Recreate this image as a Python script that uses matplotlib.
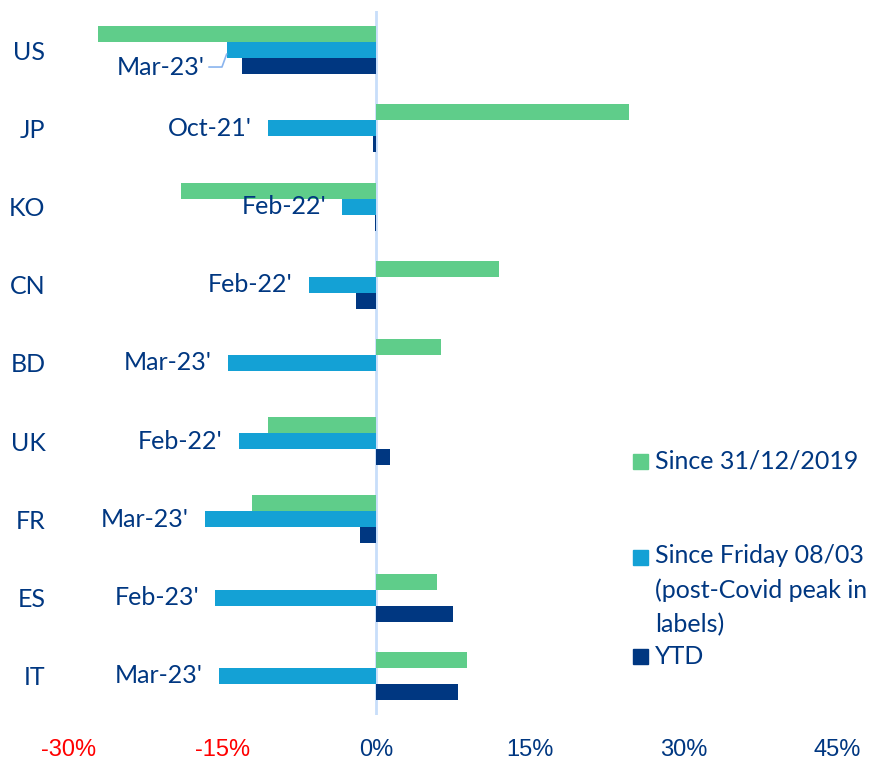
import matplotlib.pyplot as plt
from matplotlib.patches import Rectangle

countries = ['US', 'JP', 'KO', 'CN', 'BD', 'UK', 'FR', 'ES', 'IT']
since_2019 = [-27.2, 24.7, -19.1, 12.0, 6.3, -10.6, -12.1, 5.9, 8.9]
since_peak = [-14.6, -10.6, -3.3, -6.6, -14.5, -13.4, -16.7, -15.7, -15.4]
ytd = [-13.1, -0.3, -0.1, -2.0, 0.0, 1.3, -1.6, 7.5, 8.0]
peak_labels = ["Mar-23'", "Oct-21'", "Feb-22'", "Feb-22'", "Mar-23'",
               "Feb-22'", "Mar-23'", "Feb-23'", "Mar-23'"]
legend_labels = ['Since 31/12/2019',
                 'Since Friday 08/03\n(post-Covid peak in\nlabels)',
                 'YTD']
xticks = [-30, -15, 0, 15, 30, 45]

green = '#5fcd8a'
blue = '#14a1d5'
navy = '#003781'
txt = '#003781'
fs = 18
plt.rcParams['font.family'] = ['Lato', 'DejaVu Sans']

fig = plt.figure(figsize=(8.77, 7.62), dpi=100)
ax = fig.add_axes([69 / 877, 1 - 715 / 762, (837 - 69) / 877, (715 - 11) / 762])

h = 0.205
y = list(range(len(countries)))
ax.barh([i - h for i in y], since_2019, height=h, color=green, zorder=2)
ax.barh(y, since_peak, height=h, color=blue, zorder=2)
ax.barh([i + h for i in y], ytd, height=h, color=navy, zorder=2)

ax.axvline(0, color='#c8defa', linewidth=2, zorder=1)

for i, (v, lab) in enumerate(zip(since_peak, peak_labels)):
    if i == 0:
        ax.annotate(lab, xy=(v, i + 0.05), xytext=(-22, -13),
                    textcoords='offset pixels', ha='right', va='center',
                    fontsize=fs, color=txt,
                    arrowprops=dict(arrowstyle='-', color='#8ab4ee', lw=1.2,
                                    shrinkA=1, shrinkB=0,
                                    connectionstyle='angle,angleA=0,angleB=70,rad=0'))
    else:
        ax.annotate(lab, xy=(v, i), xytext=(-16, 0),
                    textcoords='offset pixels', ha='right', va='center',
                    fontsize=fs, color=txt)

ax.set_xlim(-30, 45)
ax.set_ylim(len(countries) - 0.5, -0.5)
ax.set_yticks(y)
ax.set_yticklabels(countries, fontsize=fs, color=txt)
ax.set_xticks(xticks)
ax.set_xticklabels([f'{t}%' for t in xticks], fontsize=17,
                   family=['Liberation Sans', 'DejaVu Sans'])
for lbl, t in zip(ax.get_xticklabels(), xticks):
    lbl.set_color('#ff0000' if t < 0 else txt)
ax.tick_params(axis='y', length=0, pad=17)
ax.tick_params(axis='x', length=0, pad=17)
for s in ax.spines.values():
    s.set_visible(False)

# legend drawn by hand to match spacing of the original
leg_colors = [green, blue, navy]
leg_y = [461, 557, 656]
for c, lab, yy in zip(leg_colors, legend_labels, leg_y):
    fig.add_artist(Rectangle((633 / 877, 1 - (yy + 8) / 762), 15 / 877, 15 / 762,
                             transform=fig.transFigure, color=c))
    if '\n' in lab:
        fig.text(655 / 877, 1 - (yy - 13) / 762, lab, fontsize=fs, color=txt,
                 va='top', ha='left', linespacing=1.58)
    else:
        fig.text(655 / 877, 1 - yy / 762, lab, fontsize=fs, color=txt,
                 va='center', ha='left')

fig.savefig('out.png', dpi=100)
